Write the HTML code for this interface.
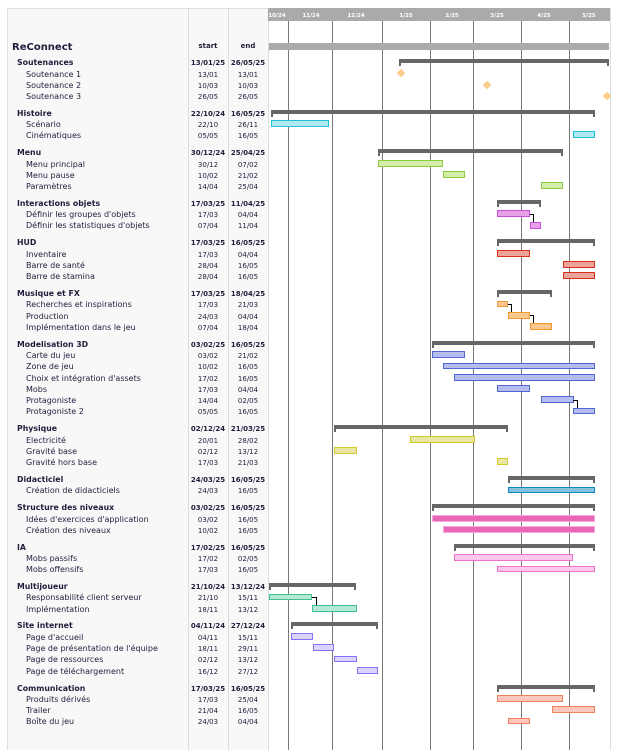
<!DOCTYPE html>
<html><head><meta charset="utf-8"><style>
html,body{margin:0;padding:0;background:#fff;width:621px;height:750px;overflow:hidden}
svg{display:block}
text{font-family:"DejaVu Sans","Liberation Sans",sans-serif;fill:#1e1e3c}
.g{font-weight:bold;font-size:7.8px}
.t{font-size:8px}
.d{font-size:7px;text-anchor:middle}
.db{font-size:7px;text-anchor:middle;font-weight:bold}
.m{font-size:5.5px;font-weight:bold;fill:#fff;text-anchor:middle}
.s{fill:#666}
.cy{fill:#aee8f0;stroke:#20c0d8}
.gr{fill:#d4edaa;stroke:#8cc840}
.pu{fill:#e8a0e8;stroke:#c850d8}
.re{fill:#eca49a;stroke:#d83020}
.or{fill:#fcc890;stroke:#f09830}
.bl{fill:#b4bcf0;stroke:#5068d0}
.ye{fill:#e8e6a0;stroke:#d0c830}
.te{fill:#88c0e0;stroke:#0888c0}
.pk{fill:#e866b8;stroke:#f8a8d8}
.lp{fill:#fcc8ec;stroke:#f070c8}
.mi{fill:#b4ead4;stroke:#40c090}
.la{fill:#dcd4fc;stroke:#8870f8}
.sa{fill:#fcc8bc;stroke:#f08060}
.cn{stroke:#000;fill:none;stroke-width:1}
</style></head><body>
<svg width="621" height="750" viewBox="0 0 621 750" xmlns="http://www.w3.org/2000/svg">
<rect x="7.5" y="8.5" width="181" height="742" fill="#f8f8f8" stroke="#ddd"/>
<rect x="188.5" y="8.5" width="40" height="742" fill="#f8f8f8" stroke="#ddd"/>
<rect x="228.5" y="8.5" width="40" height="742" fill="#f8f8f8" stroke="#ddd"/>
<rect x="268.5" y="8.5" width="342" height="742" fill="#fff" stroke="#ddd"/>
<rect x="268" y="8" width="342" height="13" fill="#aaa"/>
<g stroke="#777" stroke-width="1">
<line x1="288.5" y1="21" x2="288.5" y2="750"/><line x1="332.5" y1="21" x2="332.5" y2="750"/>
<line x1="382.5" y1="21" x2="382.5" y2="750"/><line x1="430.5" y1="21" x2="430.5" y2="750"/>
<line x1="473.5" y1="21" x2="473.5" y2="750"/><line x1="521.5" y1="21" x2="521.5" y2="750"/>
<line x1="569.5" y1="21" x2="569.5" y2="750"/>
</g>
<text class="m" x="277" y="17">10/24</text><text class="m" x="311" y="17">11/24</text>
<text class="m" x="356" y="17">12/24</text><text class="m" x="406" y="17">1/25</text>
<text class="m" x="452" y="17">2/25</text><text class="m" x="497" y="17">3/25</text>
<text class="m" x="544" y="17">4/25</text><text class="m" x="589" y="17">5/25</text>

<text x="12" y="50" style="font-size:10px;font-weight:bold">ReConnect</text>
<text class="db" x="208" y="48">start</text><text class="db" x="248" y="48">end</text>
<rect x="269" y="43" width="340" height="7" fill="#aaa"/>

<g>
<text class="g" x="17" y="65">Soutenances</text><text class="db" x="208" y="65">13/01/25</text><text class="db" x="248" y="65">26/05/25</text>
<text class="t" x="26" y="77">Soutenance 1</text><text class="d" x="208" y="77">13/01</text><text class="d" x="248" y="77">13/01</text>
<text class="t" x="26" y="88">Soutenance 2</text><text class="d" x="208" y="88">10/03</text><text class="d" x="248" y="88">10/03</text>
<text class="t" x="26" y="99">Soutenance 3</text><text class="d" x="208" y="99">26/05</text><text class="d" x="248" y="99">26/05</text>

<text class="g" x="17" y="116">Histoire</text><text class="db" x="208" y="116">22/10/24</text><text class="db" x="248" y="116">16/05/25</text>
<text class="t" x="26" y="127">Scénario</text><text class="d" x="208" y="127">22/10</text><text class="d" x="248" y="127">26/11</text>
<text class="t" x="26" y="138">Cinématiques</text><text class="d" x="208" y="138">05/05</text><text class="d" x="248" y="138">16/05</text>

<text class="g" x="17" y="155">Menu</text><text class="db" x="208" y="155">30/12/24</text><text class="db" x="248" y="155">25/04/25</text>
<text class="t" x="26" y="167">Menu principal</text><text class="d" x="208" y="167">30/12</text><text class="d" x="248" y="167">07/02</text>
<text class="t" x="26" y="178">Menu pause</text><text class="d" x="208" y="178">10/02</text><text class="d" x="248" y="178">21/02</text>
<text class="t" x="26" y="189">Paramètres</text><text class="d" x="208" y="189">14/04</text><text class="d" x="248" y="189">25/04</text>

<text class="g" x="17" y="206">Interactions objets</text><text class="db" x="208" y="206">17/03/25</text><text class="db" x="248" y="206">11/04/25</text>
<text class="t" x="26" y="217">Définir les groupes d'objets</text><text class="d" x="208" y="217">17/03</text><text class="d" x="248" y="217">04/04</text>
<text class="t" x="26" y="228">Définir les statistiques d'objets</text><text class="d" x="208" y="228">07/04</text><text class="d" x="248" y="228">11/04</text>

<text class="g" x="17" y="245">HUD</text><text class="db" x="208" y="245">17/03/25</text><text class="db" x="248" y="245">16/05/25</text>
<text class="t" x="26" y="257">Inventaire</text><text class="d" x="208" y="257">17/03</text><text class="d" x="248" y="257">04/04</text>
<text class="t" x="26" y="268">Barre de santé</text><text class="d" x="208" y="268">28/04</text><text class="d" x="248" y="268">16/05</text>
<text class="t" x="26" y="279">Barre de stamina</text><text class="d" x="208" y="279">28/04</text><text class="d" x="248" y="279">16/05</text>

<text class="g" x="17" y="296">Musique et FX</text><text class="db" x="208" y="296">17/03/25</text><text class="db" x="248" y="296">18/04/25</text>
<text class="t" x="26" y="307">Recherches et inspirations</text><text class="d" x="208" y="307">17/03</text><text class="d" x="248" y="307">21/03</text>
<text class="t" x="26" y="319">Production</text><text class="d" x="208" y="319">24/03</text><text class="d" x="248" y="319">04/04</text>
<text class="t" x="26" y="330">Implémentation dans le jeu</text><text class="d" x="208" y="330">07/04</text><text class="d" x="248" y="330">18/04</text>

<text class="g" x="17" y="347">Modelisation 3D</text><text class="db" x="208" y="347">03/02/25</text><text class="db" x="248" y="347">16/05/25</text>
<text class="t" x="26" y="358">Carte du jeu</text><text class="d" x="208" y="358">03/02</text><text class="d" x="248" y="358">21/02</text>
<text class="t" x="26" y="369">Zone de jeu</text><text class="d" x="208" y="369">10/02</text><text class="d" x="248" y="369">16/05</text>
<text class="t" x="26" y="381">Choix et intégration d'assets</text><text class="d" x="208" y="381">17/02</text><text class="d" x="248" y="381">16/05</text>
<text class="t" x="26" y="392">Mobs</text><text class="d" x="208" y="392">17/03</text><text class="d" x="248" y="392">04/04</text>
<text class="t" x="26" y="403">Protagoniste</text><text class="d" x="208" y="403">14/04</text><text class="d" x="248" y="403">02/05</text>
<text class="t" x="26" y="414">Protagoniste 2</text><text class="d" x="208" y="414">05/05</text><text class="d" x="248" y="414">16/05</text>

<text class="g" x="17" y="431">Physique</text><text class="db" x="208" y="431">02/12/24</text><text class="db" x="248" y="431">21/03/25</text>
<text class="t" x="26" y="443">Electricité</text><text class="d" x="208" y="443">20/01</text><text class="d" x="248" y="443">28/02</text>
<text class="t" x="26" y="454">Gravité base</text><text class="d" x="208" y="454">02/12</text><text class="d" x="248" y="454">13/12</text>
<text class="t" x="26" y="465">Gravité hors base</text><text class="d" x="208" y="465">17/03</text><text class="d" x="248" y="465">21/03</text>

<text class="g" x="17" y="482">Didacticiel</text><text class="db" x="208" y="482">24/03/25</text><text class="db" x="248" y="482">16/05/25</text>
<text class="t" x="26" y="493">Création de didacticiels</text><text class="d" x="208" y="493">24/03</text><text class="d" x="248" y="493">16/05</text>

<text class="g" x="17" y="510">Structure des niveaux</text><text class="db" x="208" y="510">03/02/25</text><text class="db" x="248" y="510">16/05/25</text>
<text class="t" x="26" y="522">Idées d'exercices d'application</text><text class="d" x="208" y="522">03/02</text><text class="d" x="248" y="522">16/05</text>
<text class="t" x="26" y="533">Création des niveaux</text><text class="d" x="208" y="533">10/02</text><text class="d" x="248" y="533">16/05</text>

<text class="g" x="17" y="550">IA</text><text class="db" x="208" y="550">17/02/25</text><text class="db" x="248" y="550">16/05/25</text>
<text class="t" x="26" y="561">Mobs passifs</text><text class="d" x="208" y="561">17/02</text><text class="d" x="248" y="561">02/05</text>
<text class="t" x="26" y="572">Mobs offensifs</text><text class="d" x="208" y="572">17/03</text><text class="d" x="248" y="572">16/05</text>

<text class="g" x="17" y="589">Multijoueur</text><text class="db" x="208" y="589">21/10/24</text><text class="db" x="248" y="589">13/12/24</text>
<text class="t" x="26" y="600">Responsabilité client serveur</text><text class="d" x="208" y="600">21/10</text><text class="d" x="248" y="600">15/11</text>
<text class="t" x="26" y="612">Implémentation</text><text class="d" x="208" y="612">18/11</text><text class="d" x="248" y="612">13/12</text>

<text class="g" x="17" y="628">Site internet</text><text class="db" x="208" y="628">04/11/24</text><text class="db" x="248" y="628">27/12/24</text>
<text class="t" x="26" y="640">Page d'accueil</text><text class="d" x="208" y="640">04/11</text><text class="d" x="248" y="640">15/11</text>
<text class="t" x="26" y="651">Page de présentation de l'équipe</text><text class="d" x="208" y="651">18/11</text><text class="d" x="248" y="651">29/11</text>
<text class="t" x="26" y="662">Page de ressources</text><text class="d" x="208" y="662">02/12</text><text class="d" x="248" y="662">13/12</text>
<text class="t" x="26" y="674">Page de téléchargement</text><text class="d" x="208" y="674">16/12</text><text class="d" x="248" y="674">27/12</text>

<text class="g" x="17" y="691">Communication</text><text class="db" x="208" y="691">17/03/25</text><text class="db" x="248" y="691">16/05/25</text>
<text class="t" x="26" y="702">Produits dérivés</text><text class="d" x="208" y="702">17/03</text><text class="d" x="248" y="702">25/04</text>
<text class="t" x="26" y="713">Trailer</text><text class="d" x="208" y="713">21/04</text><text class="d" x="248" y="713">16/05</text>
<text class="t" x="26" y="724">Boîte du jeu</text><text class="d" x="208" y="724">24/03</text><text class="d" x="248" y="724">04/04</text>
</g>

<g class="s" fill="#666">
<rect x="399" y="59" width="210" height="4"/><rect x="399" y="59" width="2" height="7"/><rect x="607" y="59" width="2" height="7"/>
<rect x="271" y="110" width="324" height="4"/><rect x="271" y="110" width="2" height="7"/><rect x="593" y="110" width="2" height="7"/>
<rect x="378" y="149" width="185" height="4"/><rect x="378" y="149" width="2" height="7"/><rect x="561" y="149" width="2" height="7"/>
<rect x="497" y="200" width="44" height="4"/><rect x="497" y="200" width="2" height="7"/><rect x="539" y="200" width="2" height="7"/>
<rect x="497" y="239" width="98" height="4"/><rect x="497" y="239" width="2" height="7"/><rect x="593" y="239" width="2" height="7"/>
<rect x="497" y="290" width="55" height="4"/><rect x="497" y="290" width="2" height="7"/><rect x="550" y="290" width="2" height="7"/>
<rect x="432" y="341" width="163" height="4"/><rect x="432" y="341" width="2" height="7"/><rect x="593" y="341" width="2" height="7"/>
<rect x="334" y="425" width="174" height="4"/><rect x="334" y="425" width="2" height="7"/><rect x="506" y="425" width="2" height="7"/>
<rect x="508" y="476" width="87" height="4"/><rect x="508" y="476" width="2" height="7"/><rect x="593" y="476" width="2" height="7"/>
<rect x="432" y="504" width="163" height="4"/><rect x="432" y="504" width="2" height="7"/><rect x="593" y="504" width="2" height="7"/>
<rect x="454" y="544" width="141" height="4"/><rect x="454" y="544" width="2" height="7"/><rect x="593" y="544" width="2" height="7"/>
<rect x="269" y="583" width="87" height="4"/><rect x="269" y="583" width="2" height="7"/><rect x="354" y="583" width="2" height="7"/>
<rect x="291" y="622" width="87" height="4"/><rect x="291" y="622" width="2" height="7"/><rect x="376" y="622" width="2" height="7"/>
<rect x="497" y="685" width="98" height="4"/><rect x="497" y="685" width="2" height="7"/><rect x="593" y="685" width="2" height="7"/>
</g>

<g fill="#fdd090" stroke="#f8c070" stroke-width="0.8">
<path d="M401 69.5 L404.5 73 L401 76.5 L397.5 73 Z"/>
<path d="M487 81.5 L490.5 85 L487 88.5 L483.5 85 Z"/>
<path d="M607 92.5 L610.5 96 L607 99.5 L603.5 96 Z"/>
</g>

<g stroke-width="1">
<rect class="cy" x="271.5" y="120.5" width="57" height="6"/>
<rect class="cy" x="573.5" y="131.5" width="21" height="6"/>
<rect class="gr" x="378.5" y="160.5" width="64" height="6"/>
<rect class="gr" x="443.5" y="171.5" width="21" height="6"/>
<rect class="gr" x="541.5" y="182.5" width="21" height="6"/>
<rect class="pu" x="497.5" y="210.5" width="32" height="6"/>
<rect class="pu" x="530.5" y="222.5" width="10" height="6"/>
<rect class="re" x="497.5" y="250.5" width="32" height="6"/>
<rect class="re" x="563.5" y="261.5" width="31" height="6"/>
<rect class="re" x="563.5" y="272.5" width="31" height="6"/>
<rect class="or" x="497.5" y="301.5" width="10" height="5"/>
<rect class="or" x="508.5" y="312.5" width="21" height="6"/>
<rect class="or" x="530.5" y="323.5" width="21" height="6"/>
<rect class="bl" x="432.5" y="351.5" width="32" height="6"/>
<rect class="bl" x="443.5" y="363.5" width="151" height="5"/>
<rect class="bl" x="454.5" y="374.5" width="140" height="6"/>
<rect class="bl" x="497.5" y="385.5" width="32" height="6"/>
<rect class="bl" x="541.5" y="396.5" width="32" height="6"/>
<rect class="bl" x="573.5" y="408.5" width="21" height="5"/>
<rect class="ye" x="410.5" y="436.5" width="64" height="6"/>
<rect class="ye" x="334.5" y="447.5" width="22" height="6"/>
<rect class="ye" x="497.5" y="458.5" width="10" height="6"/>
<rect class="te" x="508.5" y="487.5" width="86" height="5"/>
<rect class="pk" x="432.5" y="515.5" width="162" height="6"/>
<rect class="pk" x="443.5" y="526.5" width="151" height="6"/>
<rect class="lp" x="454.5" y="554.5" width="118" height="6"/>
<rect class="lp" x="497.5" y="566.5" width="97" height="5"/>
<rect class="mi" x="269.5" y="594.5" width="42" height="5"/>
<rect class="mi" x="312.5" y="605.5" width="44" height="6"/>
<rect class="la" x="291.5" y="633.5" width="21" height="6"/>
<rect class="la" x="313.5" y="644.5" width="20" height="6"/>
<rect class="la" x="334.5" y="656.5" width="22" height="5"/>
<rect class="la" x="357.5" y="667.5" width="20" height="6"/>
<rect class="sa" x="497.5" y="695.5" width="65" height="6"/>
<rect class="sa" x="552.5" y="706.5" width="42" height="6"/>
<rect class="sa" x="508.5" y="718.5" width="21" height="5"/>
</g>

<path class="cn" d="M530 214.5 H533.5 V222"/>
<path class="cn" d="M508 304.5 H511.5 V312"/>
<path class="cn" d="M530 315.5 H533.5 V323"/>
<path class="cn" d="M573 400.5 H577.5 V408"/>
<path class="cn" d="M312 597.5 H316.5 V605"/>
</svg>
</body></html>
